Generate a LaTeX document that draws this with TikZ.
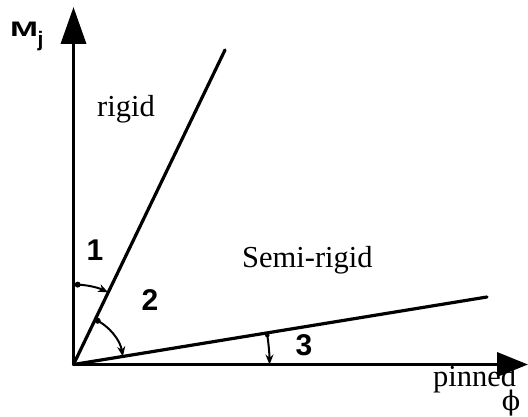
\documentclass[tikz,border=0pt]{standalone}
\usepackage{fontspec}
\setmainfont{Liberation Serif}
\newfontfamily\lsans{Liberation Sans}
\newfontfamily\dvserif{DejaVu Serif}
\usetikzlibrary{arrows.meta,calc}
\tikzset{
  axis/.style={line width=3.6pt},
  ray/.style={line width=3.2pt, line cap=round},
  anglearc/.style={line width=2pt, -{Stealth[length=10pt,width=8pt]}},
  dotmark/.style={circle, fill=black, inner sep=0pt, minimum size=6pt},
  serifl/.style={font=\fontsize{30.5}{36}\selectfont, inner sep=0pt},
  numl/.style={font=\lsans\bfseries\fontsize{30}{36}\selectfont, inner sep=0pt},
  msym/.style={font=\lsans\bfseries\fontsize{21}{24}\selectfont, inner sep=0pt},
}
\begin{document}
\begin{tikzpicture}[x=1pt,y=1pt]
\useasboundingbox (0,0) rectangle (528,-417);
\coordinate (O) at (73.5,-364.5);
\coordinate (ytip) at (73.5,-7);
\coordinate (xtip) at (528,-364.5);
\coordinate (R) at (225,-50);
\coordinate (S) at (487,-297);
% axes
\draw[axis, -{Triangle[length=37pt,width=25pt]}] (O) -- (ytip);
\draw[axis, -{Triangle[length=31pt,width=24pt]}] (O) -- (xtip);
% rays
\draw[ray] (O) -- (R);
\draw[ray] (O) -- (S);
% angle arcs
\draw[anglearc] ($(O)+(90:80)$) arc[start angle=90, end angle=64.4, radius=80];
\node[dotmark] (d1) at ($(O)+(87:80)$) {};
\draw[anglearc] ($(O)+(64.4:50)$) arc[start angle=64.4, end angle=9.2, radius=50];
\node[dotmark] (d2) at ($(O)+(61:50)$) {};
\draw[anglearc] ($(O)+(9.2:196)$) arc[start angle=9.2, end angle=0, radius=196];
\node[dotmark, minimum size=4.5pt] (d3) at ($(O)+(8.6:196)$) {};
% labels
\node[msym, xscale=1.6] (M) at (24,-29.5) {M};
\node[msym] (j) at (40.5,-41) {j};
\node[serifl, anchor=base west] (rigid) at (97,-117) {rigid};
\node[serifl, anchor=base west] (semi) at (242,-267) {Semi-rigid};
\node[serifl, anchor=base west] (pinned) at (433,-386) {pinned};
\node[font=\dvserif\fontsize{27}{30}\selectfont, inner sep=0pt] (phi) at (511,-403) {ϕ};
\node[numl] (n1) at (95,-250) {1};
\node[numl] (n2) at (150,-300) {2};
\node[numl] (n3) at (304,-345) {3};
\end{tikzpicture}
\end{document}
